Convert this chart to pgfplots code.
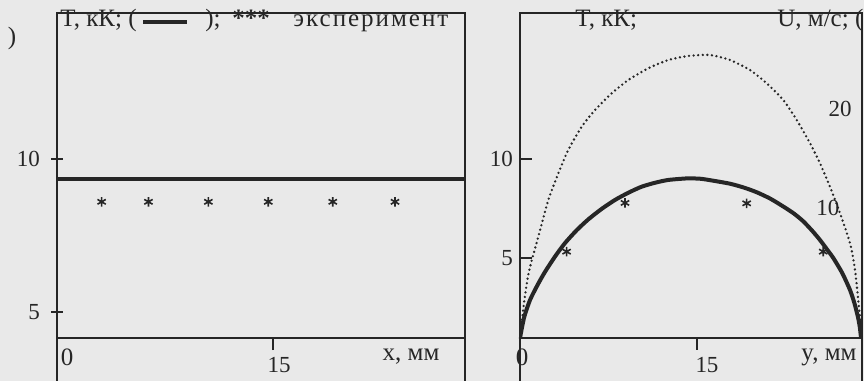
\documentclass[border=0pt]{standalone}
\usepackage{fontspec}
\setmainfont{Liberation Serif}
\usepackage{pgfplots}
\pgfplotsset{compat=1.18}
\definecolor{paper}{RGB}{233,233,233}
\definecolor{ink}{RGB}{38,38,38}

\begin{document}
\begin{tikzpicture}
\path[use as bounding box, clip] (0pt,0pt) rectangle (432pt,190.5pt);
\fill[paper] (0pt,0pt) rectangle (432pt,190.5pt);

\pgfplotsset{every axis/.append style={
  scale only axis,
  axis line style={ink, line width=0.9pt},
  tick style={ink, line width=0.8pt},
  major tick length=6pt,
  ticklabel style={font=\fontsize{11.5}{12}\selectfont, text=ink},
  /pgf/number format/assume math mode=true,
}}

% ---------------- left panel: T(x) ----------------
\begin{axis}[name=L, at={(28.5pt,21.5pt)}, anchor=south west,
  width=204pt, height=162.5pt,
  xmin=0, xmax=28.33, ymin=4.15, ymax=14.77,
  xtick={15}, ytick={5,10},
  xtick pos=bottom, ytick pos=left,
  xtick align=outside, ytick align=center,
  xticklabel style={xshift=3pt},
  yticklabel style={xshift=-2pt},
]
\addplot[ink, line width=2.2pt] coordinates {(0,9.34) (28.33,9.34)};
\addplot[only marks, mark=asterisk, mark size=2.4pt, ink, mark options={line width=0.8pt}]
  coordinates {(3.10,8.6) (6.35,8.6) (10.51,8.6) (14.67,8.6) (19.15,8.6) (23.47,8.6)};
\end{axis}
\draw[ink, line width=0.9pt] (L.south west) -- ++(0pt,-25pt);
\draw[ink, line width=0.9pt] (L.south east) -- ++(0pt,-25pt);

% ---------------- right panel: T(y) ----------------
\begin{axis}[name=R, at={(260pt,21.5pt)}, anchor=south west,
  width=171.1pt, height=162.5pt,
  xmin=0, xmax=29, ymin=0.96, ymax=17.37,
  xtick={15}, ytick={5,10},
  xtick pos=bottom, ytick pos=left,
  xtick align=outside, ytick align=inside,
  xticklabel style={xshift=5pt},
]
\addplot[ink, line width=2pt, smooth, tension=0.4] coordinates {
 (0,0.96) (0.35,2.0) (0.85,2.88) (1.5,3.65) (2.12,4.3) (3.0,5.1) (3.81,5.75)
 (4.8,6.4) (5.79,6.95) (6.9,7.47) (8.05,7.93) (9.2,8.3) (10.31,8.6)
 (11.45,8.8) (12.57,8.94) (14.2,9.02) (15.3,9.0) (16.10,8.93) (17.80,8.75)
 (19.0,8.55) (20.06,8.32) (21.2,8.0) (22.31,7.6) (23.2,7.25) (24.01,6.85)
 (24.8,6.35) (25.42,5.91) (26.0,5.45) (26.55,5.0) (27.3,4.25) (27.97,3.38)
 (28.35,2.7) (28.64,2.02) (28.80,1.5) (28.90,0.96)};
\addplot[only marks, mark=asterisk, mark size=2.4pt, ink, mark options={line width=0.8pt}]
  coordinates {(3.95,5.32) (8.9,7.78) (19.21,7.76) (25.7,5.32)};
\end{axis}
\draw[ink, line width=0.9pt] (R.south west) -- ++(0pt,-25pt);
\draw[ink, line width=0.9pt] (R.south east) -- ++(0pt,-25pt);

% ---------------- right panel: U(y), dotted ----------------
\begin{axis}[at={(260pt,21.5pt)}, anchor=south west,
  width=171.1pt, height=162.5pt,
  xmin=0, xmax=29, ymin=-3.51, ymax=30.0,
  hide axis, clip=false,
]
\addplot[ink, line width=1.3pt, line cap=round, dash pattern=on 0pt off 2.3pt, smooth, tension=0.4] coordinates {
 (0,-3.51) (0.35,0.2) (0.75,3.3) (1.55,6.94) (2.40,10.72) (3.25,13.47)
 (4.09,15.88) (5.23,18.28) (6.36,20.00) (7.77,21.72) (9.18,23.09)
 (10.87,24.30) (12.57,25.15) (14.26,25.57) (16.10,25.67) (17.80,25.15)
 (19.49,24.12) (20.91,22.75) (22.31,21.03) (23.45,18.97) (24.58,16.57)
 (25.42,14.51) (26.27,12.09) (27.12,9.35) (27.97,6.26) (28.39,3.51)
 (28.81,-1.34) (28.98,-3.51)};
\node[text=ink, font=\fontsize{11.5}{12}\selectfont] at (axis cs:27.12,20.1) {20};
\node[text=ink, font=\fontsize{11.5}{12}\selectfont] at (axis cs:26.1,9.9) {10};
\end{axis}

% ---------------- texts ----------------
\begin{scope}[every node/.style={text=ink, inner sep=0pt, font=\fontsize{12.5}{13}\selectfont}]
\node[anchor=base west] at (30pt,177pt) {T, кК; (};
\draw[ink, line width=1.6pt] (71.5pt,179.5pt) -- (93.5pt,179.5pt);
\node[anchor=base west] at (102.5pt,177pt) {);};
\node[anchor=base west] at (116pt,177pt) {\bfseries ***};
\node[anchor=base west] at (146.5pt,177pt) {\addfontfeatures{LetterSpace=8}эксперимент};
\node[anchor=base west] at (287.5pt,177pt) {T, кК;};
\node[anchor=base west] at (388.5pt,177pt) {U, м/с; (};
\node at (6pt,171.5pt) {)};
\node at (33.5pt,12pt) {0};
\node at (205.5pt,12pt) {x, мм};
\node at (261pt,12pt) {0};
\node at (414.5pt,12pt) {y, мм};
\end{scope}
\end{tikzpicture}
\end{document}
